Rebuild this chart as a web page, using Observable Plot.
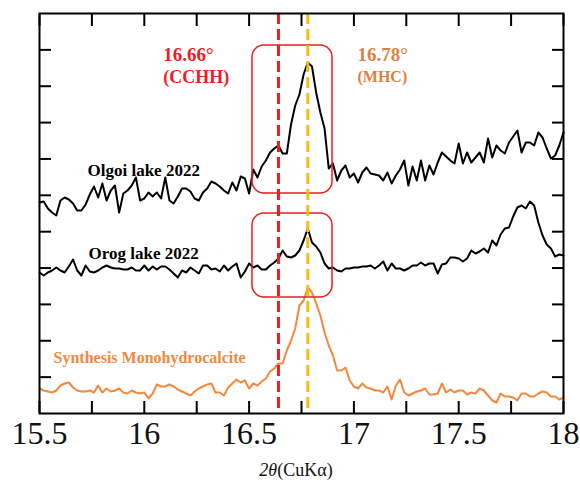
<!DOCTYPE html>
<html><head><meta charset="utf-8">
<script src="https://cdn.jsdelivr.net/npm/d3@7"></script>
<script src="https://cdn.jsdelivr.net/npm/@observablehq/plot@0.6"></script>
<style>
body{margin:0;background:#fff}
#chart svg, #chart svg text, #chart svg g { font-family: "Liberation Serif", "Times New Roman", serif !important; }
</style>
</head><body><div id="chart"></div>
<script>
// 2θ grid: 15.50 .. 18.00 (126 points)
const olgoi = [
211,212,205,201,198,213,216,214,210,203,
203,209,219,227,216,230,213,223,228,201,
220,223,228,236,213,215,221,217,221,215,
236,213,210,217,225,225,222,215,213,221,
225,232,230,227,223,220,231,223,237,235,
220,244,236,247,253,261,265,268,260,260,
289,308,319,339,351,347,321,301,285,245,
250,233,243,248,236,240,231,241,246,240,
239,238,233,241,230,238,244,253,228,247,
233,253,233,248,239,251,261,257,253,250,
270,250,261,251,256,261,251,275,256,268,
263,260,271,277,283,261,271,271,268,281,
276,265,255,258,268,281];
const orog = [
141,138,141,143,146,143,141,147,154,143,
138,148,142,141,143,146,148,146,145,145,
144,144,146,143,143,148,143,147,144,147,
147,144,140,136,143,141,146,143,140,148,
148,144,145,142,148,143,147,150,136,142,
150,146,148,144,144,148,151,155,163,157,
156,158,163,173,185,171,167,161,150,145,
146,143,142,145,145,146,146,147,147,148,
145,148,152,143,150,145,145,143,145,148,
148,151,148,150,150,140,149,150,156,156,
155,152,155,163,160,162,165,161,173,168,
179,185,186,197,206,208,205,212,208,191,
178,169,165,157,159,158];
const synth = [
25,23,22,21,23,28,30,31,26,23,
22,22,23,21,28,21,25,22,23,25,
21,20,23,21,20,21,15,20,29,27,
27,29,27,24,22,20,18,22,25,27,
29,30,21,21,18,26,30,34,31,33,
25,30,28,32,35,42,45,50,50,63,
73,85,108,113,126,121,110,98,81,68,
58,43,43,46,33,27,25,30,26,25,
23,23,21,27,14,28,34,21,18,20,
22,23,25,19,19,20,30,21,24,21,
23,23,19,21,20,25,23,18,13,11,
20,17,17,16,13,20,20,17,17,20,
22,21,17,17,14,16];
const seriesNames = ["Olgoi lake 2022", "Orog lake 2022", "Synthesis Monohydrocalcite"];
const xTicks = [15.5,15.75,16,16.25,16.5,16.75,17,17.25,17.5,17.75,18];
const xLabels = [15.5,16,16.5,17,17.5,18];
const peakLabels = ["16.66°", "(CCHH)", "16.78°", "(MHC)"];
const peakPositions = [16.64, 16.78];

const n = olgoi.length;
const step = 2.5 / (n - 1);
const mk = (arr, name) => arr.map((v, i) => ({series: name, x: 15.5 + i * step, y: v}));
const blackRows = [...mk(olgoi, seriesNames[0]), ...mk(orog, seriesNames[1])];
const orangeRows = mk(synth, seriesNames[2]);
const yTicks = d3.range(1, 11).map(k => k * 400 / 11);

const serif = "Liberation Serif";
const RED = "#ee1c23", GOLD = "#f5be0b", ORANGE = "#f4883c", ORTXT = "#e3803f";

const boxes = [
  {x1: 16.516, x2: 16.898, y1: 220, y2: 368},
  {x1: 16.516, x2: 16.898, y1: 116, y2: 200}
];
const labels = [
  {t: peakLabels[0], x: 16.09, y: 353, c: RED, s: 19},
  {t: peakLabels[1], x: 16.09, y: 331, c: RED, s: 18},
  {t: peakLabels[2], x: 17.017, y: 353, c: ORTXT, s: 19},
  {t: peakLabels[3], x: 17.017, y: 332, c: ORTXT, s: 16},
  {t: seriesNames[0], x: 15.729, y: 238, c: "black", s: 17},
  {t: seriesNames[1], x: 15.734, y: 155, c: "black", s: 17},
  {t: seriesNames[2], x: 15.567, y: 51, c: ORANGE, s: 16}
];
const noFmt = () => "";

const plot = Plot.plot({
  width: 580, height: 486,
  marginTop: 13, marginBottom: 73, marginLeft: 39, marginRight: 17,
  style: {fontFamily: serif, background: "white", overflow: "visible"},
  x: {domain: [15.5, 18], label: null},
  y: {domain: [0, 400], label: null},
  color: {type: "identity"},
  marks: [
    Plot.line(blackRows, {x: "x", y: "y", z: "series", stroke: "black", strokeWidth: 2}),
    Plot.line(orangeRows, {x: "x", y: "y", stroke: ORANGE, strokeWidth: 2}),
    Plot.rect(boxes, {x1: "x1", x2: "x2", y1: "y1", y2: "y2", rx: 12, fill: "none", stroke: RED, strokeWidth: 1.5}),
    Plot.ruleX([peakPositions[0]], {stroke: RED, strokeWidth: 3, strokeDasharray: "11,5"}),
    Plot.ruleX([peakPositions[1]], {stroke: GOLD, strokeWidth: 3, strokeDasharray: "11,5"}),
    Plot.frame({stroke: "black", strokeWidth: 2}),
    Plot.axisX({anchor: "bottom", ticks: xTicks, tickSize: -12, strokeWidth: 2, tickFormat: noFmt, label: null}),
    Plot.axisX({anchor: "top", ticks: xTicks, tickSize: -12, strokeWidth: 2, tickFormat: noFmt, label: null}),
    Plot.axisY({anchor: "left", ticks: yTicks, tickSize: -12, strokeWidth: 2, tickFormat: noFmt, label: null}),
    Plot.axisY({anchor: "right", ticks: yTicks, tickSize: -12, strokeWidth: 2, tickFormat: noFmt, label: null}),
    Plot.axisX({anchor: "bottom", ticks: xLabels, tickSize: 0, tickPadding: 8, fontSize: 32, fill: "#111", tickFormat: d => String(d), label: null}),
    Plot.text(labels, {x: "x", y: "y", text: "t", fill: "c", fontSize: "s", fontWeight: "bold", textAnchor: "start", lineAnchor: "bottom"})
  ]
});
document.getElementById("chart").appendChild(plot);

const svg = d3.select(plot);
const title = svg.append("text")
  .attr("x", 296).attr("y", 476)
  .attr("text-anchor", "middle")
  .attr("font-size", 18).attr("fill", "#111");
title.append("tspan").attr("font-style", "italic").text("2θ");
title.append("tspan").text("(CuKα)");
</script>
</body></html>
